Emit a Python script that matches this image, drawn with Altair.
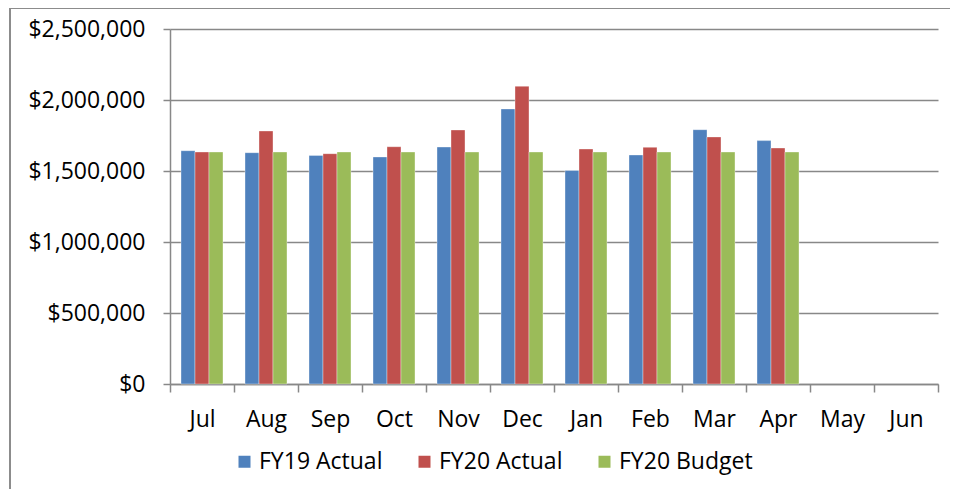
import altair as alt
import pandas as pd

months = ["Jul", "Aug", "Sep", "Oct", "Nov", "Dec", "Jan", "Feb", "Mar", "Apr", "May", "Jun"]
series = ["FY19 Actual", "FY20 Actual", "FY20 Budget"]
colors = ["#4F81BD", "#C0504D", "#9BBB59"]

fy19_actual = [1643000, 1629000, 1610000, 1599000, 1669000, 1937000, 1504000, 1613000, 1791000, 1714000]
fy20_actual = [1634000, 1782000, 1622000, 1671000, 1789000, 2097000, 1655000, 1667000, 1740000, 1662000]
fy20_budget = [1634000, 1634000, 1634000, 1634000, 1634000, 1634000, 1634000, 1634000, 1634000, 1634000]

rows = []
for name, vals in zip(series, [fy19_actual, fy20_actual, fy20_budget]):
    for m, v in zip(months, vals):
        rows.append({"month": m, "series": name, "value": v})
df = pd.DataFrame(rows)

FONT = "Open Sans"
FS = 23

bars = alt.Chart(df).mark_bar(stroke="white", strokeWidth=0.6, strokeOpacity=0.6).encode(
    x=alt.X("month:N", sort=months,
            scale=alt.Scale(domain=months, paddingInner=0, paddingOuter=0),
            axis=alt.Axis(title=None, labelAngle=0, tickBand="extent", grid=False,
                          domainColor="#888888", domainWidth=1.5,
                          tickColor="#888888", tickWidth=1.5, tickSize=8,
                          labelPadding=16, labelFontSize=FS, labelFont=FONT,
                          labelColor="black")),
    xOffset=alt.XOffset("series:N", sort=series,
                        scale=alt.Scale(domain=series, paddingInner=0, paddingOuter=0.786)),
    y=alt.Y("value:Q",
            scale=alt.Scale(domain=[0, 2500000], nice=False),
            axis=alt.Axis(title=None, values=[0, 500000, 1000000, 1500000, 2000000, 2500000],
                          format="$,.0f", grid=True, gridColor="#888888", gridWidth=1.5,
                          domainColor="#888888", domainWidth=1.5,
                          tickColor="#888888", tickWidth=1.5, tickSize=7,
                          labelPadding=18, labelFontSize=FS, labelFont=FONT,
                          labelColor="black")),
    color=alt.Color("series:N", sort=series,
                    scale=alt.Scale(domain=series, range=colors),
                    legend=alt.Legend(title=None, orient="none", direction="horizontal",
                                      legendX=63, legendY=421, padding=0,
                                      symbolType="square", symbolSize=144,
                                      symbolStrokeWidth=0, labelOffset=3,
                                      columnPadding=30, labelFontSize=FS,
                                      labelFont=FONT, labelColor="black")),
)

top_border = alt.Chart(df).mark_rule(color="#8c8c8c", strokeWidth=1.5).encode(
    x=alt.value(-160), x2=alt.value(800), y=alt.value(-21)
)
left_border = alt.Chart(df).mark_rule(color="#8c8c8c", strokeWidth=1.5).encode(
    x=alt.value(-160), y=alt.value(-21), y2=alt.value(480)
)

chart = alt.layer(bars, top_border, left_border).properties(
    width=768, height=355,
    autosize=alt.AutoSizeParams(type="none"),
    padding={"left": 162, "top": 21, "right": 12, "bottom": 105},
    background="white",
).configure_view(stroke=None)

chart.save("out.html", embed_options={"renderer": "svg", "actions": False})
